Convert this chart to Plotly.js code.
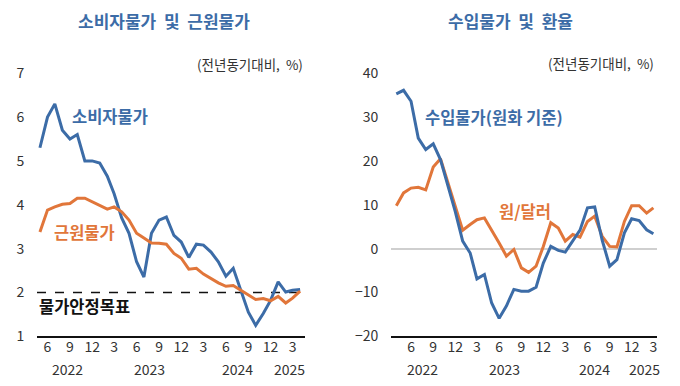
<!DOCTYPE html>
<html>
<head>
<meta charset="utf-8">
<script src="https://cdn.plot.ly/plotly-3.0.1.min.js"></script>
<style>html,body{margin:0;padding:0;background:#fff;}#chart{width:680px;height:386px;}</style>
</head>
<body>
<div id="chart"></div>
<script>
// ---- Data ----
const monthsLeft = ["2022-05","2022-06","2022-07","2022-08","2022-09","2022-10","2022-11","2022-12",
  "2023-01","2023-02","2023-03","2023-04","2023-05","2023-06","2023-07","2023-08","2023-09","2023-10","2023-11","2023-12",
  "2024-01","2024-02","2024-03","2024-04","2024-05","2024-06","2024-07","2024-08","2024-09","2024-10","2024-11","2024-12",
  "2025-01","2025-02","2025-03","2025-04"];
const cpi = [5.3,6.0,6.3,5.7,5.5,5.6,5.0,5.0,4.95,4.65,4.25,3.7,3.35,2.7,2.35,3.35,3.65,3.72,3.3,3.15,
  2.8,3.1,3.08,2.92,2.7,2.37,2.55,2.05,1.55,1.25,1.52,1.82,2.24,2.01,2.05,2.07];
const coreCpi = [3.38,3.88,3.95,4.01,4.03,4.15,4.15,4.07,3.98,3.9,3.95,3.84,3.65,3.35,3.24,3.13,3.12,3.1,2.89,2.78,
  2.53,2.55,2.42,2.32,2.22,2.14,2.16,2.05,1.95,1.84,1.86,1.81,1.91,1.76,1.87,2.03];
const inflationTarget = 2;

const monthsRight = ["2022-04","2022-05","2022-06","2022-07","2022-08","2022-09","2022-10","2022-11","2022-12",
  "2023-01","2023-02","2023-03","2023-04","2023-05","2023-06","2023-07","2023-08","2023-09","2023-10","2023-11","2023-12",
  "2024-01","2024-02","2024-03","2024-04","2024-05","2024-06","2024-07","2024-08","2024-09","2024-10","2024-11","2024-12",
  "2025-01","2025-02","2025-03"];
const importPrice = [35.3,36.1,33.6,25.2,22.6,23.9,20.3,14.2,8.5,1.7,-1.0,-6.9,-5.9,-12.4,-15.9,-13.1,-9.3,-9.7,-9.7,-8.8,-3.3,
  0.5,-0.4,-0.8,1.9,4.2,9.3,9.5,1.9,-4.0,-2.5,3.6,6.8,6.4,4.3,3.4];
const wonDollar = [9.8,12.7,13.8,14.0,13.4,18.6,20.5,15.0,9.5,4.2,5.5,6.6,7.0,4.3,1.3,-1.7,-0.2,-4.4,-5.4,-4.0,0.5,
  5.9,4.7,1.7,3.2,2.6,6.2,7.4,2.8,0.5,0.4,6.2,9.8,9.8,8.1,9.3];

const monthTickVals = ["2022-06","2022-09","2022-12","2023-03","2023-06","2023-09","2023-12","2024-03","2024-06","2024-09","2024-12","2025-03"];
const tickText = ["6","9","12","3","6","9","12","3","6","9","12","3"];
const yearLabels = ["2022","2023","2024","2025"];
const leftYearPos = ["2022-08-20","2023-07-22","2024-07-18","2025-02-18"];
const rightYearPos = ["2022-07-20","2023-06-25","2024-06-28","2025-01-22"];

// ---- Style ----
const BLUE = "#3c6ca7", ORANGE = "#e1763a";
const FONT = "Noto Sans CJK KR, Noto Sans, sans-serif";
const toDate = m => m + "-01";
const NB = "&nbsp;";

const traces = [
  {x: monthsLeft.map(toDate), y: cpi, xaxis: "x", yaxis: "y", mode: "lines", line: {color: BLUE, width: 3}, hoverinfo: "skip"},
  {x: monthsLeft.map(toDate), y: coreCpi, xaxis: "x", yaxis: "y", mode: "lines", line: {color: ORANGE, width: 3}, hoverinfo: "skip"},
  {x: monthsRight.map(toDate), y: wonDollar, xaxis: "x2", yaxis: "y2", mode: "lines", line: {color: ORANGE, width: 3}, hoverinfo: "skip"},
  {x: monthsRight.map(toDate), y: importPrice, xaxis: "x2", yaxis: "y2", mode: "lines", line: {color: BLUE, width: 3}, hoverinfo: "skip"}
];

const yDom = [0.1287, 0.8104];
const commonX = {type: "date", showgrid: false, zeroline: false, showline: true, linecolor: "#111", linewidth: 2,
  tickmode: "array", ticktext: tickText, ticks: "", ticklabelstandoff: -3,
  tickfont: {size: 14, color: "#333", family: FONT}};
const commonY = {showgrid: false, showline: false, ticks: "outside", ticklen: 9, tickcolor: "rgba(0,0,0,0)",
  tickfont: {size: 14, color: "#333", family: FONT}, domain: yDom};

const lab = (x, y, text, size, color, anchor) => ({xref: "paper", yref: "paper", x: x/680, y: 1 - y/386, text: text,
  showarrow: false, font: {size: size, color: color, family: FONT}, xanchor: anchor, yanchor: "middle"});

const annotations = [
  lab(164, 21, "<b>소비자물가" + NB + NB + "및" + NB + NB + "근원물가</b>", 17, BLUE, "center"),
  lab(510, 21, "<b>수입물가" + NB + NB + "및" + NB + NB + "환율</b>", 17, BLUE, "center"),
  lab(305, 64, "(전년동기대비," + NB + NB + "%)", 13.5, "#333", "right"),
  lab(656, 63, "(전년동기대비," + NB + NB + "%)", 13.5, "#333", "right"),
  lab(70, 116, "<b>소비자물가</b>", 16.5, BLUE, "left"),
  lab(52, 232, "<b>근원물가</b>", 16.5, ORANGE, "left"),
  lab(37, 306, "<b>물가안정목표</b>", 16.5, "#111", "left"),
  lab(423, 117, "<b>수입물가(원화 기준)</b>", 16.5, BLUE, "left"),
  lab(497, 211, "<b>원/달러</b>", 16.5, ORANGE, "left")
];
yearLabels.forEach((t, i) => {
  annotations.push({xref: "x", yref: "paper", x: leftYearPos[i], y: 1 - 369/386, text: t, showarrow: false,
    font: {size: 14, color: "#333", family: FONT}, xanchor: "center", yanchor: "middle"});
  annotations.push({xref: "x2", yref: "paper", x: rightYearPos[i], y: 1 - 369/386, text: t, showarrow: false,
    font: {size: 14, color: "#333", family: FONT}, xanchor: "center", yanchor: "middle"});
});

const layout = {
  width: 680, height: 386, margin: {l: 0, r: 0, t: 0, b: 0},
  paper_bgcolor: "#fff", plot_bgcolor: "#fff", showlegend: false,
  font: {family: FONT},
  xaxis: Object.assign({}, commonX, {domain: [37/680, 305/680], range: ["2022-04-19", "2025-04-21"],
    tickvals: monthTickVals.map(toDate), anchor: "y"}),
  yaxis: Object.assign({}, commonY, {range: [1, 7], dtick: 1, zeroline: false, anchor: "x"}),
  xaxis2: Object.assign({}, commonX, {domain: [391/680, 657/680], range: ["2022-03-10", "2025-03-16"],
    tickvals: monthTickVals.map(toDate), anchor: "y2"}),
  yaxis2: Object.assign({}, commonY, {range: [-20, 40], dtick: 10, zeroline: true, zerolinecolor: "#cfcfcf", zerolinewidth: 2, anchor: "x2"}),
  shapes: [
    {type: "line", xref: "x domain", yref: "y", x0: 0, x1: 1, y0: inflationTarget, y1: inflationTarget,
      line: {color: "#111", width: 1.5, dash: "dash"}, layer: "below"}
  ],
  annotations: annotations
};

Plotly.newPlot("chart", traces, layout, {staticPlot: true, displayModeBar: false});
</script>
</body>
</html>
